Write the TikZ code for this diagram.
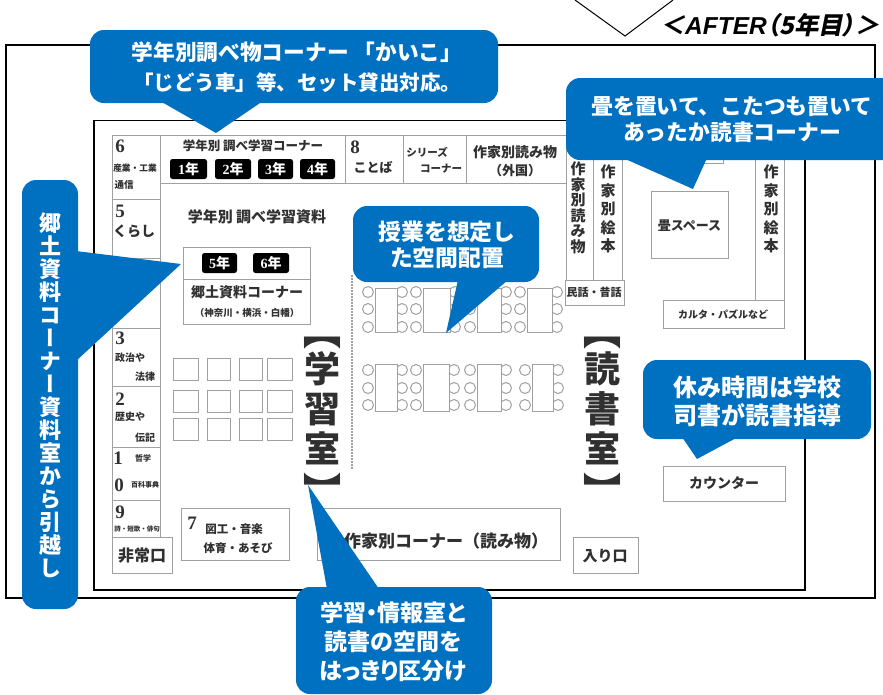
\documentclass[tikz,border=0pt]{standalone}
\usepackage{fontspec}
\setmainfont{Noto Sans CJK JP}
\newfontfamily\jp{Noto Sans CJK JP}
\newfontfamily\jpp[RawFeature=+palt]{Noto Sans CJK JP}
\newfontfamily\jpv[RawFeature=+vert]{Noto Sans CJK JP}
\newfontfamily\jpit[FakeSlant=0.2,RawFeature=+palt]{Noto Sans CJK JP}
\newfontfamily\lat{Liberation Sans}
\newfontfamily\num{Liberation Serif}
\definecolor{bubblue}{HTML}{0070C0}
\definecolor{planline}{HTML}{A0A0A0}
\definecolor{plantext}{HTML}{303030}
\newcommand{\fs}[1]{\fontsize{#1}{#1}\selectfont}
\newcommand{\bubble}[9]{%
  \fill[bubblue,rounded corners=14pt] (#1,#2) rectangle (#3,#4);
  \fill[bubblue,line join=round] #5;
  \node[bubtext,font=#7] (#8) at (#6) {#9};
}
\tikzset{
  frame/.style={draw=black,line width=1.5pt},
  planbox/.style={draw=planline,line width=1pt,fill=white},
  planln/.style={draw=planline,line width=1pt},
  ptext/.style={text=plantext,inner sep=0pt,font=\jp\bfseries},
  numtext/.style={text=plantext,inner sep=0pt,font=\num\bfseries\fs{19}},
  vtext/.style={text=plantext,inner sep=0pt,align=center},
  badge/.style={fill=black,rounded corners=2.5pt},
  badgetext/.style={text=white,inner sep=0pt,font=\fs{14}},
  bubtext/.style={text=white,inner sep=0pt,align=center},
  chair/.style={draw=planline,line width=1pt,fill=white},
  desk/.style={draw=planline,line width=1pt,fill=white},
  seat/.style={draw=planline,line width=1pt,fill=white}
}
\begin{document}
\begin{tikzpicture}[x=1pt,y=-1pt]
\useasboundingbox (0,0) rectangle (883,694);
% heading
\draw[black,line width=1pt] (575,0) -- (625,36) -- (673,0);
\node[inner sep=0pt,anchor=east,font=\fs{24.5}] (after) at (880,25)
  {\jpit\bfseries ＜{\lat\bfseries\itshape AFTER}（5年目）＞};
% frames
\draw[frame] (6,45) rectangle (875,598);
\draw[frame] (94,120.5) rectangle (805,590);
% plan: top row and left column
\draw[planln] (160,183) -- (160,135) -- (112,135) -- (112,537);
\draw[planln] (112,135) -- (566,135);
\draw[planln] (160,183) -- (566,183);
\draw[planln] (160,183) -- (160,537);
\foreach \xx in {345,403,466} \draw[planln] (\xx,135) -- (\xx,183);
\foreach \yy in {199,258,328,386,447,500} \draw[planln] (112,\yy) -- (160,\yy);
% top row text
\node[numtext] (n6) at (120,146) {6};
\node[ptext,font=\jp\bfseries\fs{8.7}] (t6a) at (135,168) {産業・工業};
\node[ptext,font=\jp\bfseries\fs{9.5}] (t6b) at (124,185) {通信};
\node[ptext,font=\jp\bfseries\fs{12.5}] (t1) at (253,146) {学年別 調べ学習コーナー};
\foreach \xa/\xb/\dg in {170/207/1,215/251/2,258/293/3,300/335/4}{
  \fill[badge] (\xa,159) rectangle (\xb,179);
  \node[badgetext] at ({(\xa+\xb)/2},169) {{\num\bfseries\dg}{\jp\bfseries 年}};
}
\node[numtext] (n8) at (355,147) {8};
\node[ptext,font=\jp\bfseries\fs{13}] (t8) at (373,167) {ことば};
\node[ptext,font=\jp\bfseries\fs{10.5}] (ts1) at (427,152) {シリーズ};
\node[ptext,font=\jp\bfseries\fs{10.5}] (ts2) at (441,169) {コーナー};
\node[ptext,font=\jp\bfseries\fs{14}] (ta1) at (515,152) {作家別読み物};
\node[ptext,font=\jp\bfseries\fs{13}] (ta2) at (515,171) {（外国）};
% left column text
\node[numtext] (n5) at (120,211) {5};
\node[ptext,font=\jp\bfseries\fs{14}] (t5) at (134,231) {くらし};
\node[numtext] (n3) at (120,338) {3};
\node[ptext,font=\jp\bfseries\fs{10}] (t3a) at (130,358) {政治や};
\node[ptext,font=\jp\bfseries\fs{10}] (t3b) at (145,377) {法律};
\node[numtext] (n2) at (120,399) {2};
\node[ptext,font=\jp\bfseries\fs{10}] (t2a) at (130,417) {歴史や};
\node[ptext,font=\jp\bfseries\fs{10}] (t2b) at (145,438) {伝記};
\node[numtext] (n1) at (118,458) {1};
\node[ptext,font=\jp\bfseries\fs{8}] (t1a) at (143,458) {哲学};
\node[numtext] (n0) at (119,485) {0};
\node[ptext,font=\jp\bfseries\fs{7}] (t0a) at (145,485) {百科事典};
\node[numtext] (n9) at (120,512) {9};
\node[ptext,font=\jp\bfseries\fs{6.5}] (t9a) at (137,529) {詩・短歌・俳句};
\draw[planbox] (112,537) rectangle (172,573);
\node[ptext,font=\jp\bfseries\fs{16}] (texit) at (142,556) {非常口};
% study section
\node[ptext,font=\jp\bfseries\fs{15}] (tstudy) at (257,217) {学年別 調べ学習資料};
\draw[planbox] (183,247) rectangle (310,324);
\draw[planln] (183,279) -- (310,279);
\foreach \xa/\xb/\dg in {202/237/5,253/289/6}{
  \fill[badge] (\xa,253) rectangle (\xb,273);
  \node[badgetext] at ({(\xa+\xb)/2},263) {{\num\bfseries\dg}{\jp\bfseries 年}};
}
\node[ptext,font=\jp\bfseries\fs{14}] (tk1) at (247,292) {郷土資料コーナー};
\node[ptext,font=\jp\bfseries\fs{9.5}] (tk2) at (247,313) {（神奈川・横浜・白幡）};
\foreach \xa/\xb in {173/198,207/230,239/262,267/292}
  \foreach \ya/\yb in {358/380,390/412,418/440}
    \draw[seat] (\xa,\ya) rectangle (\xb,\yb);
\draw[planbox] (181,508) rectangle (289,560);
\node[numtext] (n7) at (192,523) {7};
\node[ptext,font=\jp\bfseries\fs{11.5}] (t7a) at (234,529) {図工・音楽};
\node[ptext,font=\jp\bfseries\fs{11.5}] (t7b) at (238,548) {体育・あそび};
% room names
\node[vtext,font=\jpv\bfseries\fs{38}] (b1) at (322,343) {【};
\node[vtext,font=\jp\bfseries\fontsize{36}{40}\selectfont] (room1) at (322,408) {学\\習\\室};
\node[vtext,font=\jpv\bfseries\fs{38}] (b2) at (322,489) {】};
\node[vtext,font=\jpv\bfseries\fs{38}] (b3) at (602,343) {【};
\node[vtext,font=\jp\bfseries\fontsize{36}{40}\selectfont] (room2) at (602,408) {読\\書\\室};
\node[vtext,font=\jpv\bfseries\fs{38}] (b4) at (602,489) {】};
% partition
\draw[planln,line width=2pt,dash pattern=on 1.5pt off 1.5pt] (352,275) -- (352,469);
% reading tables
\foreach \xa/\xb in {375/397,423/450,477/501,527/552}{
  \foreach \yy in {292,309,327}{
    \draw[chair] (\xa-7,\yy) circle (5.5);
    \draw[chair] (\xb+5,\yy) circle (5.5);
  }
  \draw[desk] (\xa,288) rectangle (\xb,332);
}
\foreach \xa/\xb in {375/397,423/449,477/501,532/553}{
  \foreach \yy in {370,388,405}{
    \draw[chair] (\xa-7,\yy) circle (5.5);
    \draw[chair] (\xb+5,\yy) circle (5.5);
  }
  \draw[desk] (\xa,364) rectangle (\xb,411);
}
% bottom boxes
\draw[planbox] (317,508) rectangle (560,560);
\node[ptext,font=\jp\bfseries\fs{17}] (tauthor) at (446,541) {作家別コーナー（読み物）};
\draw[planbox] (573,537) rectangle (638,573);
\node[ptext,font=\jp\bfseries\fs{15}] (tin) at (605,556) {入り口};
\draw[planbox] (663,466) rectangle (785,501);
\node[ptext,font=\jp\bfseries\fs{14}] (tcnt) at (724,483) {カウンター};
% right shelves
\draw[planln] (566,135) -- (566,280);
\draw[planln] (593,135) -- (593,280);
\draw[planln] (622,135) -- (622,280);
\draw[planbox] (565,280) rectangle (624,305);
\node[ptext,font=\jp\bfseries\fs{11}] (tfolk) at (594,292) {民話・昔話};
\node[vtext,font=\jp\bfseries\fontsize{15}{15.5}\selectfont] (vs1) at (578,208) {作\\家\\別\\読\\み\\物};
\node[vtext,font=\jp\bfseries\fontsize{15}{18.5}\selectfont] (vs2) at (608,209) {作\\家\\別\\絵\\本};
\draw[planln] (755,135) -- (755,300);
\draw[planln] (784,135) -- (784,300);
\node[vtext,font=\jp\bfseries\fontsize{15}{18.5}\selectfont] (vs3) at (771,209) {作\\家\\別\\絵\\本};
\draw[planbox] (663,300) rectangle (784,328);
\node[ptext,font=\jp\bfseries\fs{10}] (tcard) at (723,315) {カルタ・パズルなど};
\draw[planbox] (651,100) rectangle (723,163);
\draw[planbox] (651,191) rectangle (728,258);
\node[ptext,font=\jp\bfseries\fs{13}] (ttat) at (689.5,226) {畳スペース};
% callouts
\bubble{90}{30}{498}{103}{(160,101) -- (216,133) -- (263,101) -- cycle}{297,67}{\jp\bfseries\fontsize{20.5}{30}\selectfont}{c1}{{\fontsize{21.7}{30}\selectfont 学年別調べ物コーナー 「かいこ」}\\「じどう車」等、セット貸出対応。}
\bubble{22}{180}{78}{609}{(76,251) -- (181,264) -- (76,361) -- cycle}{50,395}{\jpv\bfseries\fontsize{22}{23}\selectfont}{c2}{郷\\土\\資\\料\\コ\\ー\\ナ\\ー\\資\\料\\室\\か\\ら\\引\\越\\し}
\bubble{353}{206}{539}{282}{(458,280) -- (446,333) -- (508,280) -- cycle}{447,245}{\jp\bfseries\fontsize{22.8}{26}\selectfont}{c3}{授業を想定し\\た空間配置}
\bubble{566}{78}{897}{160}{(623,158) -- (693,189) -- (707,158) -- cycle}{732,120}{\jp\bfseries\fontsize{21.8}{26}\selectfont}{c4}{畳を置いて、こたつも置いて\\あったか読書コーナー}
\bubble{643}{360}{871}{439}{(682,437) -- (697,459) -- (738,437) -- cycle}{757,401}{\jp\bfseries\fontsize{24}{28}\selectfont}{c5}{休み時間は学校\\司書が読書指導}
\bubble{296}{587}{492}{694}{(327,589) -- (308,485) -- (379,589) -- cycle}{393,642}{\jpp\bfseries\fontsize{23}{29}\selectfont}{c6}{学習・情報室と\\読書の空間を\\はっきり区分け}
\end{tikzpicture}
\end{document}
